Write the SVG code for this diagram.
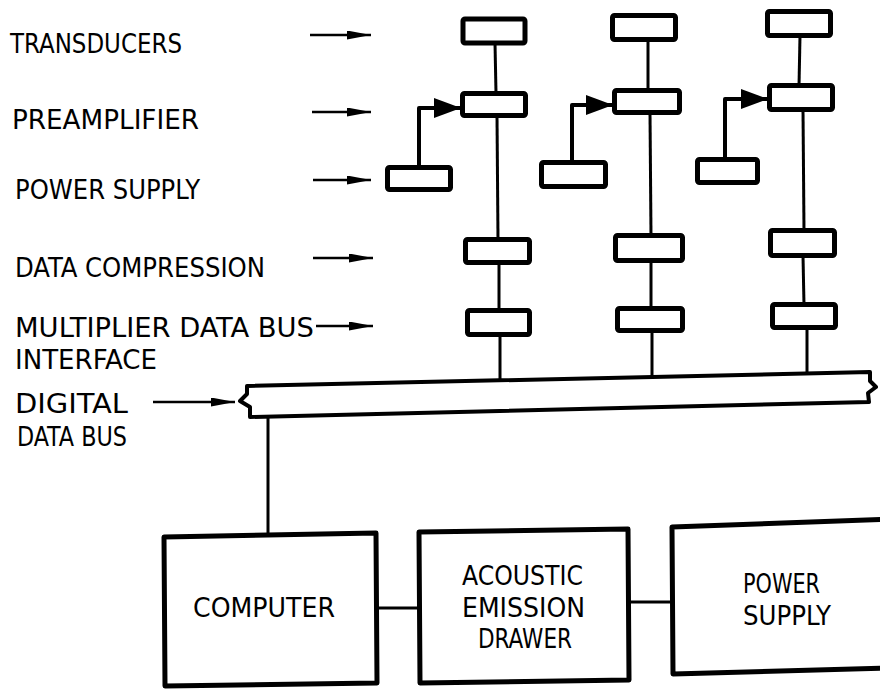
<svg xmlns="http://www.w3.org/2000/svg" width="880" height="689" viewBox="0 0 880 689">
<style>
.bx{fill:#fff;stroke:#000;stroke-width:5;stroke-linejoin:round}
.ln{fill:none;stroke:#000;stroke-width:3}
.fd{fill:none;stroke:#000;stroke-width:4;stroke-linejoin:round}
.ar{fill:none;stroke:#000;stroke-width:2.5}
.lb{font-family:"DejaVu Sans Condensed","DejaVu Sans","Liberation Sans",sans-serif;font-size:27px;fill:#000}
.bl{font-family:"DejaVu Sans Condensed","DejaVu Sans","Liberation Sans",sans-serif;font-size:26px;fill:#000}
</style>
<defs>
<marker id="ah" viewBox="0 0 24 9" refX="24" refY="4.5" markerWidth="24" markerHeight="9" markerUnits="userSpaceOnUse" orient="auto"><path d="M0,0 L24,4.5 L0,9 Z" fill="#000"/></marker>
<marker id="ahb" viewBox="0 0 27 20" refX="27" refY="10" markerWidth="27" markerHeight="20" markerUnits="userSpaceOnUse" orient="auto"><path d="M0,0 L27,10 L0,20 Z" fill="#000"/></marker>
</defs>

<g id="labels">
<text class="lb" x="10" y="53" textLength="172" lengthAdjust="spacingAndGlyphs">TRANSDUCERS</text>
<text class="lb" x="12" y="129" textLength="187" lengthAdjust="spacingAndGlyphs">PREAMPLIFIER</text>
<text class="lb" x="15" y="199" textLength="185" lengthAdjust="spacingAndGlyphs">POWER SUPPLY</text>
<text class="lb" x="15" y="277" textLength="250" lengthAdjust="spacingAndGlyphs">DATA COMPRESSION</text>
<text class="lb" x="15" y="337" textLength="299" lengthAdjust="spacingAndGlyphs">MULTIPLIER DATA BUS</text>
<text class="lb" x="15" y="369" textLength="142" lengthAdjust="spacingAndGlyphs">INTERFACE</text>
<text class="lb" x="15" y="413" textLength="113" lengthAdjust="spacingAndGlyphs">DIGITAL</text>
<text class="lb" x="17" y="446" textLength="110" lengthAdjust="spacingAndGlyphs">DATA BUS</text>
</g>

<g id="connectors">
<path class="ar" d="M310,35 H371" marker-end="url(#ah)"/>
<path class="ar" d="M312,112 H371" marker-end="url(#ah)"/>
<path class="ar" d="M313,180 H371" marker-end="url(#ah)"/>
<path class="ar" d="M313,258 H373" marker-end="url(#ah)"/>
<path class="ar" d="M316,326 H373" marker-end="url(#ah)"/>
<path class="ar" d="M153,402 H235" marker-end="url(#ah)"/>

<path class="ln" d="M495,43 L496,93"/>
<path class="ln" d="M497,116 L498,240"/>
<path class="ln" d="M499,263 L499,311"/>
<path class="ln" d="M500,335 L500,381"/>

<path class="ln" d="M648,40 L648,90"/>
<path class="ln" d="M650,113 L651,236"/>
<path class="ln" d="M651,261 L651,309"/>
<path class="ln" d="M652,331 L652,377"/>

<path class="ln" d="M800,36 L799,86"/>
<path class="ln" d="M803,110 L804,231"/>
<path class="ln" d="M803,256 L804,305"/>
<path class="ln" d="M807,328 L807,374"/>

<path class="fd" d="M419,168 V108 H461" marker-end="url(#ahb)"/>
<path class="fd" d="M572,163 V105 H613" marker-end="url(#ahb)"/>
<path class="fd" d="M725,160 V99 H768" marker-end="url(#ahb)"/>

<path class="ln" d="M268,416 V535"/>
<path class="ln" d="M377,608 H419"/>
<path class="ln" d="M629,602 H672"/>
</g>

<g id="bus">
<path d="M247,386 L870,372 L870,381 L876,387 L868,393 L869,402 L250,417 L250,407 L240,401 L247,394 Z" fill="#fff" stroke="#000" stroke-width="4" stroke-linejoin="round"/>
</g>

<g id="col1">
<rect id="t1" class="bx" x="463" y="19" width="62" height="24" rx="2"/>
<rect id="p1" class="bx" x="462.5" y="93.5" width="63" height="22" rx="2"/>
<rect id="s1" class="bx" x="387.5" y="167.5" width="63" height="22" rx="2"/>
<rect id="d1" class="bx" x="465.5" y="239.5" width="64" height="23" rx="2"/>
<rect id="m1" class="bx" x="467.5" y="310.5" width="62" height="24" rx="2"/>
</g>
<g id="col2">
<rect id="t2" class="bx" x="612.5" y="15.5" width="63" height="24" rx="2"/>
<rect id="p2" class="bx" x="614.5" y="90.5" width="65" height="22" rx="2"/>
<rect id="s2" class="bx" x="541.5" y="162.5" width="64" height="24" rx="2"/>
<rect id="d2" class="bx" x="615.5" y="235.5" width="67" height="25" rx="2"/>
<rect id="m2" class="bx" x="617.5" y="308.5" width="65" height="22" rx="2"/>
</g>
<g id="col3">
<rect id="t3" class="bx" x="767.5" y="11.5" width="63" height="24" rx="2"/>
<rect id="p3" class="bx" x="769.5" y="85.5" width="63" height="24" rx="2"/>
<rect id="s3" class="bx" x="697.5" y="159.5" width="60" height="23" rx="2"/>
<rect id="d3" class="bx" x="770.5" y="230.5" width="64" height="25" rx="2"/>
<rect id="m3" class="bx" x="772.5" y="304.5" width="63" height="23" rx="2"/>
</g>

<g id="computer">
<path class="bx" d="M164,537 L376,533 L377,683 L165,686 Z"/>
<text class="bl" x="193" y="617" textLength="142" lengthAdjust="spacingAndGlyphs">COMPUTER</text>
</g>
<g id="ae-drawer">
<path class="bx" d="M419,532 L628,529 L629,680 L420,683 Z"/>
<text class="bl" x="462" y="585" textLength="121" lengthAdjust="spacingAndGlyphs">ACOUSTIC</text>
<text class="bl" x="462" y="617" textLength="123" lengthAdjust="spacingAndGlyphs">EMISSION</text>
<text class="bl" x="478" y="648" textLength="94" lengthAdjust="spacingAndGlyphs">DRAWER</text>
</g>
<g id="power-supply">
<path class="bx" d="M672,527 L892,519 L892,668 L673,674 Z"/>
<text class="bl" x="743" y="593" textLength="77" lengthAdjust="spacingAndGlyphs">POWER</text>
<text class="bl" x="743" y="625" textLength="88" lengthAdjust="spacingAndGlyphs">SUPPLY</text>
</g>
</svg>
